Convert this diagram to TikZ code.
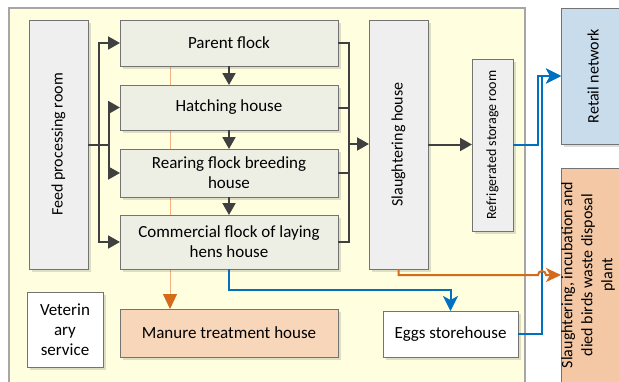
\documentclass[tikz,border=0pt]{standalone}
\usepackage{fontspec}
\setmainfont{Carlito}
\usetikzlibrary{positioning,arrows.meta,shadows}
\definecolor{flockfill}{HTML}{EDEFE5}
\definecolor{roomfill}{HTML}{EFEFEF}
\definecolor{manurefill}{HTML}{F8D6BA}
\definecolor{plantfill}{HTML}{F4C8A4}
\definecolor{retailfill}{HTML}{C9DCEC}
\definecolor{farmfill}{HTML}{FFFFDF}
\definecolor{darkline}{HTML}{404040}
\definecolor{flowblue}{HTML}{0070C0}
\definecolor{floworange}{HTML}{D46A1A}
\definecolor{paleorange}{HTML}{F4B183}
\pgfdeclarelayer{background}
\pgfsetlayers{background,main}
\tikzset{
  boxsize/.style 2 args={minimum width=#1pt, minimum height=#2pt},
  house/.style={rectangle, draw=black!55, line width=0.9pt, anchor=north west,
                inner sep=2pt, outer sep=0pt, align=center, font=\fontsize{17}{20}\selectfont,
                drop shadow={shadow xshift=3pt, shadow yshift=-3pt, fill=black, opacity=0.13}},
  flock/.style={house, fill=flockfill},
  room/.style={house, fill=roomfill},
  plain/.style={house, fill=white},
  vtext/.style={rotate=90, align=center, font=\fontsize{16}{20}\selectfont},
  link/.style={draw=darkline, line width=2pt},
  fwd/.style={->, draw=darkline, line width=2pt, >={Triangle[length=12pt,width=13pt]}},
  eggflow/.style={->, draw=flowblue, line width=2pt, >={Stealth[length=15pt,width=15pt,inset=4pt]}},
  wasteflow/.style={->, draw=floworange, line width=2pt, >={Stealth[length=15pt,width=14pt,inset=4pt]}},
  manureflow/.style={->, draw=paleorange, line width=1pt, >={Triangle[length=15pt,width=14pt,color=floworange]}},
}
\begin{document}
\begin{tikzpicture}[x=1pt, y=-1pt]
  \useasboundingbox (0,0) rectangle (619,381);
  \clip (0,0) rectangle (619,381);
  \begin{pgfonlayer}{background}
    \draw[draw=black!35, line width=1.2pt, fill=farmfill] (9,8) rectangle (525,400);
  \end{pgfonlayer}

  \node[room, boxsize={59}{249}, label={[vtext]center:Feed processing room}] (feed) at (29,20) {};
  \node[flock, boxsize={218}{46}] (parent) at (120,20) {Parent flock};
  \node[flock, boxsize={218}{45}] (hatch) at (120,85) {Hatching house};
  \node[flock, boxsize={218}{48}] (rear) at (120,149) {Rearing flock breeding\\house};
  \node[flock, boxsize={218}{54}] (comm) at (120,215) {Commercial flock of laying\\hens house};
  \node[house, fill=manurefill, boxsize={218}{48}] (manure) at (120,309) {Manure treatment house};
  \node[plain, boxsize={76}{75}] (vet) at (27,292) {Veterin\\ary\\service};
  \node[room, boxsize={59}{249}, label={[vtext]center:Slaughtering house}] (slaughter) at (369,20) {};
  \node[room, boxsize={41}{172},
        label={[vtext, font=\fontsize{14}{17}\selectfont]center:Refrigerated storage room}] (fridge) at (472,59) {};
  \node[plain, boxsize={135}{46}] (eggs) at (383,311) {Eggs storehouse};
  \node[house, fill=retailfill, boxsize={64}{136},
        label={[vtext]center:Retail network}] (retail) at (561,8) {};
  \node[house, fill=plantfill, boxsize={64}{214},
        label={[vtext, yshift=5pt]center:{Slaughtering, incubation and\\died birds waste disposal\\plant}}] (plant) at (561,168) {};

  \coordinate (fa) at (99,0);
  \coordinate (fb) at (109,0);
  \coordinate (sj) at (349,144);
  \coordinate (ra) at (538,0);
  \coordinate (rb) at (542,0);
  \coordinate (ml) at (170,0);

  \draw[link] (feed.east) -- (feed.east -| fb);
  \draw[fwd] (feed.east -| fa) |- (parent.west);
  \draw[fwd] (feed.east -| fa) |- (comm.west);
  \draw[fwd] (feed.east -| fb) |- (hatch.west);
  \draw[fwd] (feed.east -| fb) |- (rear.west);
  \foreach \a/\b in {parent/hatch, hatch/rear, rear/comm}
    \draw[fwd] (\a.south) -- (\b.north);
  \foreach \a in {parent, hatch, rear, comm}
    \draw[link] (\a.east) -| (sj);
  \draw[fwd] (sj) -- (sj -| slaughter.west);
  \draw[fwd] (slaughter.east) -- (slaughter.east -| fridge.west);

  \draw[eggflow] (comm.south) -- ++(0,21) -| (eggs.north);
  \draw[eggflow] (fridge.east) -- (fridge.east -| ra) |- (retail.west);
  \draw[eggflow] (eggs.east) -- (eggs.east -| rb) |- (retail.west);
  \draw[wasteflow] (slaughter.south) |- (plant.west -| ra) arc[start angle=180, end angle=0, radius=4pt] -- (plant.west);

  \begin{pgfonlayer}{background}
    \draw[manureflow] (parent.south -| ml) -- (manure.north -| ml);
  \end{pgfonlayer}
\end{tikzpicture}
\end{document}
